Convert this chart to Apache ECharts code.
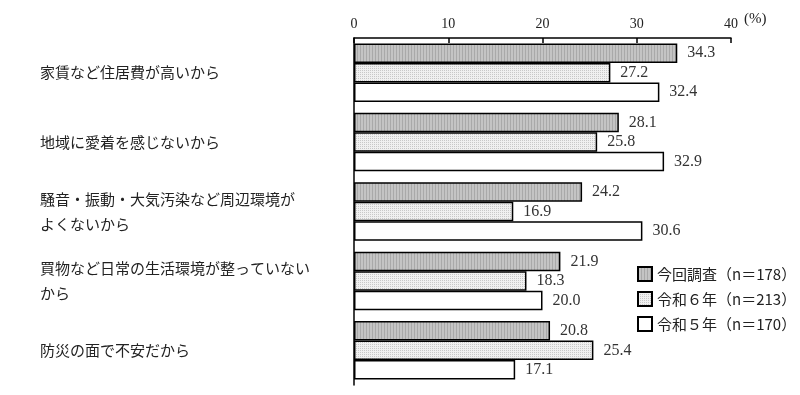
<!DOCTYPE html>
<html>
<head>
<meta charset="utf-8">
<script src="https://cdn.jsdelivr.net/npm/echarts@6/dist/echarts.min.js"></script>
<style>html,body{margin:0;padding:0;background:#fff}#c{width:800px;height:395px}</style>
</head>
<body>
<div id="c"></div>
<script>
const categories = [
  '家賃など住居費が高いから',
  '地域に愛着を感じないから',
  '騒音・振動・大気汚染など周辺環境が\nよくないから',
  '買物など日常の生活環境が整っていない\nから',
  '防災の面で不安だから'
];
const seriesNames = ['今回調査（n＝178）', '令和６年（n＝213）', '令和５年（n＝170）'];
const currentSurvey = [34.3, 28.1, 24.2, 21.9, 20.8];
const reiwa6 = [27.2, 25.8, 16.9, 18.3, 25.4];
const reiwa5 = [32.4, 32.9, 30.6, 20.0, 17.1];
const xTicks = { min: 0, max: 40, interval: 10 };

function stripePattern() {
  const c = document.createElement('canvas');
  c.width = 3; c.height = 3;
  const g = c.getContext('2d');
  g.fillStyle = '#c4c4c4'; g.fillRect(0, 0, 3, 3);
  g.fillStyle = '#a9a9a9'; g.fillRect(0, 0, 1, 3);
  return { image: c, repeat: 'repeat' };
}
function dotPattern() {
  const c = document.createElement('canvas');
  c.width = 2; c.height = 2;
  const g = c.getContext('2d');
  g.fillStyle = '#f0f0f0'; g.fillRect(0, 0, 2, 2);
  g.fillStyle = '#c8c8c8'; g.fillRect(0, 0, 1, 1);
  return { image: c, repeat: 'repeat' };
}

const fills = [stripePattern(), dotPattern(), '#ffffff'];
const values = [currentSurvey, reiwa6, reiwa5];

const chart = echarts.init(document.getElementById('c'), null, { renderer: 'canvas' });
chart.setOption({
  animation: false,
  backgroundColor: '#fff',
  textStyle: { fontFamily: '"Noto Sans CJK JP", sans-serif' },
  grid: { left: 354, right: 69, top: 38, bottom: 10, containLabel: false },
  legend: {
    orient: 'vertical',
    left: 632,
    top: 261,
    itemWidth: 14,
    itemHeight: 14,
    itemGap: 9,
    icon: 'rect',
    textStyle: { fontSize: 15, color: '#222', fontFamily: '"Noto Sans CJK JP", sans-serif' },
    data: seriesNames
  },
  xAxis: {
    type: 'value',
    position: 'top',
    min: xTicks.min, max: xTicks.max, interval: xTicks.interval,
    name: '(%)',
    nameLocation: 'end',
    nameGap: 4,
    nameTextStyle: { fontSize: 15, color: '#222', fontFamily: '"Liberation Serif", serif', verticalAlign: 'bottom', padding: [0, 0, 11, 0] },
    axisLine: { show: true, lineStyle: { color: '#000', width: 1.5 } },
    axisTick: { show: true, inside: true, length: 5, lineStyle: { color: '#000', width: 1.5 } },
    axisLabel: { fontSize: 14, color: '#222', margin: 7, fontFamily: '"Liberation Serif", serif' },
    splitLine: { show: false }
  },
  yAxis: {
    type: 'category',
    inverse: true,
    data: categories,
    axisLine: { show: true, lineStyle: { color: '#000', width: 1.5 } },
    axisTick: { show: false },
    axisLabel: {
      align: 'left',
      margin: 314,
      fontSize: 15,
      lineHeight: 25,
      color: '#222',
      fontFamily: '"Noto Sans CJK JP", sans-serif'
    }
  },
  series: seriesNames.map((name, i) => ({
    name: name,
    type: 'bar',
    data: values[i],
    barWidth: 19.5,
    barGap: '0%',
    itemStyle: { color: fills[i], borderColor: '#000', borderWidth: 1.5 },
    label: {
      show: true,
      position: 'right',
      distance: 10,
      fontSize: 16,
      color: '#333',
      fontFamily: '"Liberation Serif", serif',
      formatter: p => p.value.toFixed(1)
    }
  }))
});
</script>
</body>
</html>
